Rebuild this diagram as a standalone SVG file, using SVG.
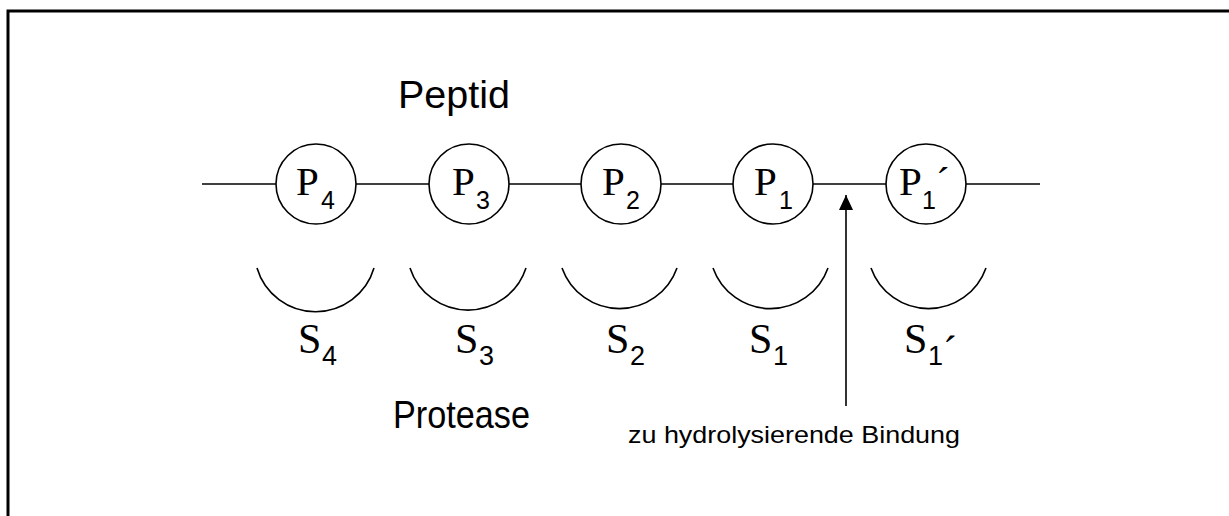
<svg xmlns="http://www.w3.org/2000/svg" width="1229" height="516" viewBox="0 0 1229 516">
<style>
.ln{stroke:#000;stroke-width:1.6;fill:none}
.nd{stroke:#000;stroke-width:1.6;fill:#fff}
.pm{font-family:"Liberation Serif","Times New Roman",serif;font-size:41px;fill:#000}
.sm{font-family:"Liberation Serif","Times New Roman",serif;font-size:42px;fill:#000}
.sb{font-family:"Liberation Sans",Arial,sans-serif;font-size:25px}
.ss{font-family:"Liberation Sans",Arial,sans-serif;font-size:27px}
.lb{font-family:"Liberation Sans",Arial,sans-serif;font-size:39px;fill:#000}
.cp{font-family:"Liberation Sans",Arial,sans-serif;font-size:24px;fill:#000}
</style>
<defs>
<marker id="ah" markerWidth="15" markerHeight="14" refX="15" refY="7" orient="auto" markerUnits="userSpaceOnUse" viewBox="0 0 15 14">
<path d="M0,0 L15,7 L0,14 Z" fill="#000"/>
</marker>
</defs>
<rect width="1229" height="516" fill="#fff"/>
<path d="M8,516 V11 H1229" fill="none" stroke="#000" stroke-width="3"/>
<text class="lb" x="398" y="108" textLength="112" lengthAdjust="spacingAndGlyphs">Peptid</text>
<text class="lb" x="393" y="428" textLength="137" lengthAdjust="spacingAndGlyphs">Protease</text>
<g id="connectors">
<line class="ln" x1="202" y1="184" x2="1040" y2="184"/>
<line class="ln" x1="846" y1="406" x2="846" y2="195" marker-end="url(#ah)"/>
</g>
<g id="P4"><circle class="nd" cx="316" cy="184" r="40"/><text class="pm" x="296" y="195">P<tspan class="sb" x="321" y="209">4</tspan></text></g>
<g id="P3"><circle class="nd" cx="469" cy="184" r="40"/><text class="pm" x="452" y="195">P<tspan class="sb" x="476" y="209">3</tspan></text></g>
<g id="P2"><circle class="nd" cx="621" cy="184" r="40"/><text class="pm" x="602" y="195">P<tspan class="sb" x="626" y="209">2</tspan></text></g>
<g id="P1"><circle class="nd" cx="773" cy="184" r="40"/><text class="pm" x="754" y="195">P<tspan class="sb" x="779" y="209">1</tspan></text></g>
<g id="P1p"><circle class="nd" cx="926" cy="184" r="40"/><text class="pm" x="899" y="195">P<tspan class="sb" x="922" y="209">1</tspan><tspan x="936" y="195">´</tspan></text></g>
<g id="S4"><path class="ln" d="M257,268 A61,61 0 0 0 374,268"/><text class="sm" x="298" y="353">S<tspan class="ss" x="322" y="365">4</tspan></text></g>
<g id="S3"><path class="ln" d="M410,268 A61,61 0 0 0 526,268"/><text class="sm" x="455" y="353">S<tspan class="ss" x="479" y="365">3</tspan></text></g>
<g id="S2"><path class="ln" d="M562,268 A61,61 0 0 0 677,268"/><text class="sm" x="606" y="353">S<tspan class="ss" x="630" y="365">2</tspan></text></g>
<g id="S1"><path class="ln" d="M713,268 A61,61 0 0 0 828,268"/><text class="sm" x="749" y="353">S<tspan class="ss" x="773" y="365">1</tspan></text></g>
<g id="S1p"><path class="ln" d="M871,268 A61,61 0 0 0 986,268"/><text class="sm" x="904" y="353">S<tspan class="ss" x="928" y="365">1</tspan><tspan x="943" y="365">´</tspan></text></g>
<text class="cp" x="628" y="443" textLength="332" lengthAdjust="spacingAndGlyphs">zu hydrolysierende Bindung</text>
</svg>
